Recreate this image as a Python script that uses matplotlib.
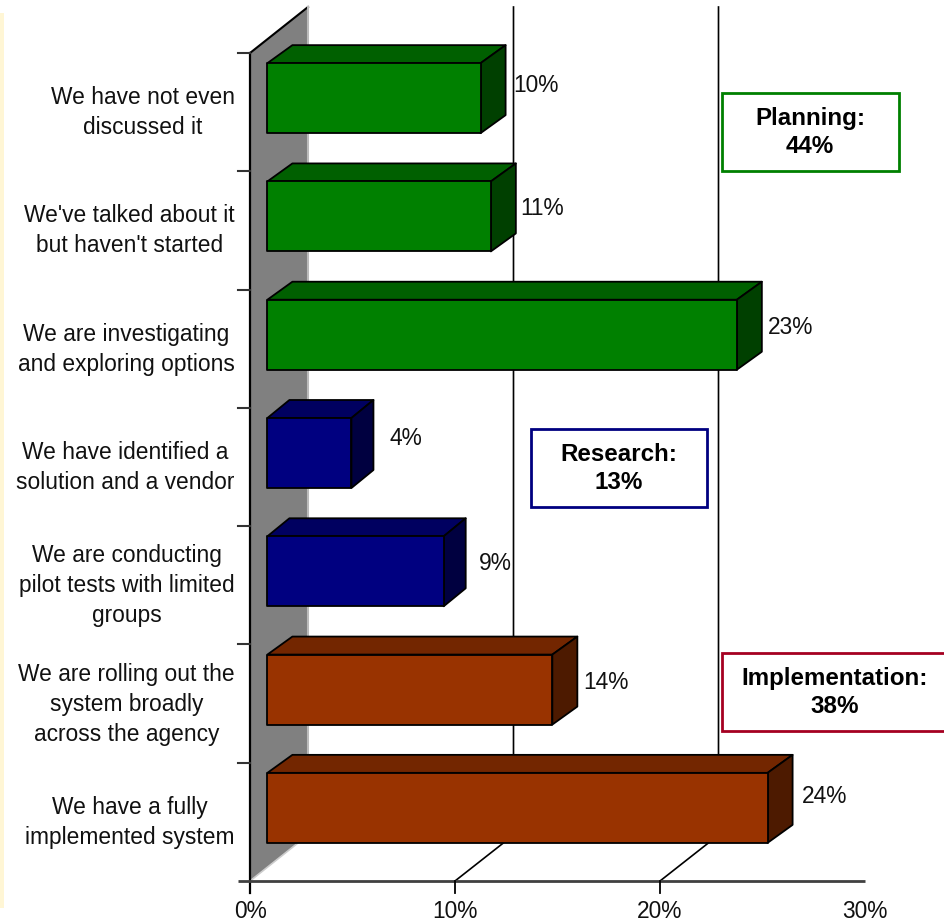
import matplotlib
matplotlib.use("Agg")
import matplotlib.pyplot as plt
from matplotlib.patches import Polygon, Rectangle

plt.rcParams['font.family'] = ['Liberation Sans', 'DejaVu Sans']

categories = ["We have not even\ndiscussed it",
              "We've talked about it\nbut haven't started",
              "We are investigating\nand exploring options",
              "We have identified a\nsolution and a vendor",
              "We are conducting\npilot tests with limited\ngroups",
              "We are rolling out the\nsystem broadly\nacross the agency",
              "We have a fully\nimplemented system"]
values = [10.4, 10.9, 22.9, 4.1, 8.6, 13.9, 24.4]
value_labels = ["10%", "11%", "23%", "4%", "9%", "14%", "24%"]
groups = ["plan", "plan", "plan", "res", "res", "impl", "impl"]
x_ticks = [0, 10, 20, 30]
x_tick_labels = ["0%", "10%", "20%", "30%"]

# layout (pixels)
W, H = 944, 923
X0, PX_PER = 250, 20.5
Y_TOP, SLOT = 53, 828 / 7
WALL_DX, WALL_DY = 58, 46
GRID_DX = 58.5
BAR_DX = {"plan": 25, "res": 22, "impl": 25}
BAR_DY = 18
BAR_X_SHIFT, BAR_Y_SHIFT, BAR_H = 17.4, -14, 70
LABEL_OFF = [(30, -27), (26, -22), (29, -21), (32, -28), (30, -22), (29, -21), (32, -25)]
COLORS = {"plan": ("#008000", "#006000", "#004000"),
          "res": ("#000080", "#000060", "#000040"),
          "impl": ("#993300", "#732600", "#4D1A00")}
TXT = "#111111"
FS = 16.4

fig = plt.figure(figsize=(W / 100, H / 100), dpi=100, facecolor="white")
ax = fig.add_axes([0, 0, 1, 1])
ax.set_xlim(-X0 / PX_PER, (W - X0) / PX_PER)
# category i has its slot centre at i; y grows downward
ax.set_ylim((H - Y_TOP) / SLOT - 0.5, -Y_TOP / SLOT - 0.5)
ax.axis("off")
dx = 1 / PX_PER       # data units per pixel
dy = 1 / SLOT
n = len(categories)
y_floor, y_top = n - 0.5, -0.5

# page-edge stripe
ax.add_patch(Rectangle((-X0 * dx, (13 - Y_TOP) * dy - 0.5), 3.5 * dx, 895 * dy,
                       fc="#FFF6D5", ec="none", zorder=1))

# side wall
wall = [(0, y_top), (WALL_DX * dx, y_top - WALL_DY * dy),
        (WALL_DX * dx, y_floor - WALL_DY * dy), (0, y_floor)]
ax.add_patch(Polygon(wall, closed=True, fc="#808080", ec="none", zorder=2))
ax.plot([wall[0][0], wall[1][0]], [wall[0][1], wall[1][1]], color="black", lw=1.5, zorder=3)
ax.plot([wall[1][0], wall[2][0]], [wall[1][1], wall[2][1]], color="#BBBBBB", lw=1.5, zorder=3)
ax.plot([wall[2][0], wall[3][0]], [wall[2][1], wall[3][1]], color="#CCCCCC", lw=1.2, zorder=3)

# gridlines with floor diagonals
for t in x_ticks[1:3]:
    xb = t + GRID_DX * dx
    ax.plot([t, xb, xb], [y_floor, y_floor - WALL_DY * dy, y_top - WALL_DY * dy],
            color="black", lw=1.2, zorder=3)

# axes
ax.plot([0, 0], [y_top, y_floor + 12 * dy], color="black", lw=1.6, zorder=4)
ax.plot([-12 * dx, 30], [y_floor, y_floor], color="#404040", lw=2, zorder=4,
        solid_capstyle="butt")
for i in range(n):
    ax.plot([-12 * dx, 0], [i - 0.5, i - 0.5], color="#333333", lw=1.5, zorder=4)
for t in x_ticks[1:3]:
    ax.plot([t, t], [y_floor, y_floor + 12 * dy], color="black", lw=1.3, zorder=4)
for t, s in zip(x_ticks, x_tick_labels):
    ax.text(t, y_floor + 30 * dy, s, ha="center", va="center", fontsize=FS, color=TXT, zorder=6)

# bars
for i, (v, g) in enumerate(zip(values, groups)):
    front, top, side = COLORS[g]
    x0 = BAR_X_SHIFT * dx
    x1 = v + BAR_X_SHIFT * dx
    y0 = i + BAR_Y_SHIFT * dy - BAR_H / 2 * dy
    y1 = y0 + BAR_H * dy
    ox, oy = BAR_DX[g] * dx, BAR_DY * dy
    kw = dict(closed=True, ec="black", lw=1.3, joinstyle="round", zorder=5)
    ax.add_patch(Polygon([(x0, y0), (x1, y0), (x1 + ox, y0 - oy), (x0 + ox, y0 - oy)], fc=top, **kw))
    ax.add_patch(Polygon([(x1, y0), (x1 + ox, y0 - oy), (x1 + ox, y1 - oy), (x1, y1)], fc=side, **kw))
    ax.add_patch(Polygon([(x0, y0), (x1, y0), (x1, y1), (x0, y1)], fc=front, **kw))
    lx, ly = LABEL_OFF[i]
    ax.text(x1 + ox + lx * dx, i + ly * dy, value_labels[i], ha="center", va="center",
            fontsize=FS, color=TXT, zorder=6)
    ax.text(-15.5 * dx, i + 0.5 * dy, categories[i], ha="right", va="center", multialignment="center",
            fontsize=FS, color=TXT, linespacing=1.39, zorder=6)

# callout boxes
def px(x, y):
    return (x - X0) * dx, (y - Y_TOP) * dy - 0.5

boxes = [("Planning:\n44%", 722, 93, 899, 171, "#008000", 810),
         ("Research:\n13%", 531, 429, 707, 507, "#000080", 619),
         ("Implementation:\n38%", 722, 653, 960, 731, "#A50021", 835)]
for s, l, t, r, b, c, tx in boxes:
    x, y = px(l, t)
    ax.add_patch(Rectangle((x, y), (r - l) * dx, (b - t) * dy, fc="white", ec=c, lw=2, zorder=7))
    xc, yc = px(tx, (t + b) / 2 + 0.5)
    ax.text(xc, yc, s, ha="center", va="center", multialignment="center", fontsize=17.4,
            fontweight="bold", color="black", linespacing=1.27, zorder=8)

fig.savefig("out.png", dpi=100)
